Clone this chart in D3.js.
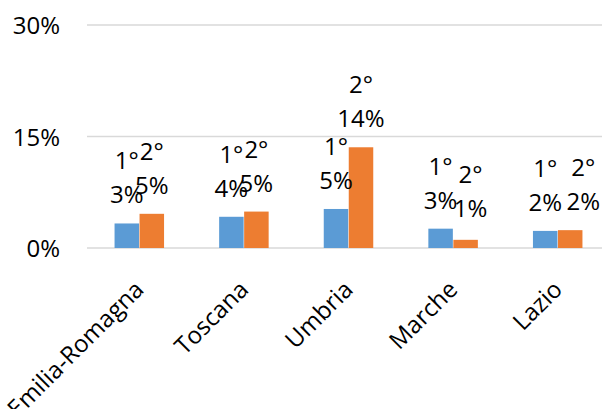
<!DOCTYPE html>
<html><head><meta charset="utf-8">
<script src="https://cdn.jsdelivr.net/npm/d3@7"></script>
<style>body{margin:0;background:#fff}svg{display:block}text{font-family:"Open Sans",sans-serif}</style>
</head><body>
<script>
const categories = ["Emilia-Romagna","Toscana","Umbria","Marche","Lazio"];
const seriesNames = ["1°","2°"];
const series1 = [0.033, 0.042, 0.0525, 0.026, 0.023];
const series2 = [0.046, 0.049, 0.1355, 0.011, 0.024];
const yTicks = [0, 0.15, 0.30];
const colors = ["#5B9BD5","#ED7D31"];

const W = 602, H = 409;
const svg = d3.select("body").append("svg").attr("width", W).attr("height", H);

const x = d3.scaleBand().domain(categories).range([87, 610]).padding(0);
const xs = d3.scaleBand().domain([0,1]).range([0, 49.5]).paddingInner(0.02);
const y = d3.scaleLinear().domain([0, 0.30]).range([248, 25]);

// layout-only label nudges (as placed in the original chart)
const labelNudge = {"Marche|1": [5, -3], "Lazio|1": [13, 0]};

svg.append("g").selectAll("line").data(yTicks).join("line")
  .attr("x1", 87).attr("x2", 602)
  .attr("y1", d => y(d)).attr("y2", d => y(d))
  .attr("stroke", "#d9d9d9").attr("stroke-width", 1.5);

const yAxis = d3.axisLeft(y).tickValues(yTicks).tickFormat(d3.format(".0%")).tickSize(0).tickPadding(0);
const ya = svg.append("g").attr("transform", "translate(60,0)").call(yAxis);
ya.select(".domain").remove();
ya.selectAll("text").attr("font-size", 24).attr("fill", "#000").attr("font-family", "Open Sans").attr("dy", "0.36em");

const data = [series1, series2];
const fmt = v => Math.round(v * 100) + "%";
const barX = (i, si) => x(categories[i]) + x.bandwidth()/2 - 24.75 + xs(si);
data.forEach((vals, si) => {
  svg.append("g").selectAll("rect").data(vals).join("rect")
    .attr("x", (d, i) => barX(i, si))
    .attr("width", xs.bandwidth())
    .attr("y", d => y(d))
    .attr("height", d => y(0) - y(d))
    .attr("fill", colors[si]);
});
data.forEach((vals, si) => {
  const g = svg.append("g");
  vals.forEach((d, i) => {
    const n = labelNudge[categories[i] + "|" + si] || [0, 0];
    const cx = barX(i, si) + xs.bandwidth()/2 + n[0];
    const top = y(d) + n[1];
    g.append("text").attr("x", cx).attr("y", top - 54).attr("text-anchor", "middle")
      .attr("font-size", 24).attr("fill", "#000").text(seriesNames[si]);
    g.append("text").attr("x", cx).attr("y", top - 20).attr("text-anchor", "middle")
      .attr("font-size", 24).attr("fill", "#000").text(fmt(d));
  });
});

const xAxis = d3.axisBottom(x).tickSize(0).tickPadding(0);
const xa = svg.append("g").call(xAxis);
xa.select(".domain").remove();
xa.selectAll(".tick").attr("transform", d => `translate(${x(d) + x.bandwidth()/2},0)`);
xa.selectAll("text")
  .attr("font-size", 24).attr("fill", "#000").attr("font-family", "Open Sans")
  .attr("text-anchor", "end").attr("dy", "0.35em").attr("y", 0)
  .attr("transform", "translate(0,285) rotate(-45)");
</script>
</body></html>
